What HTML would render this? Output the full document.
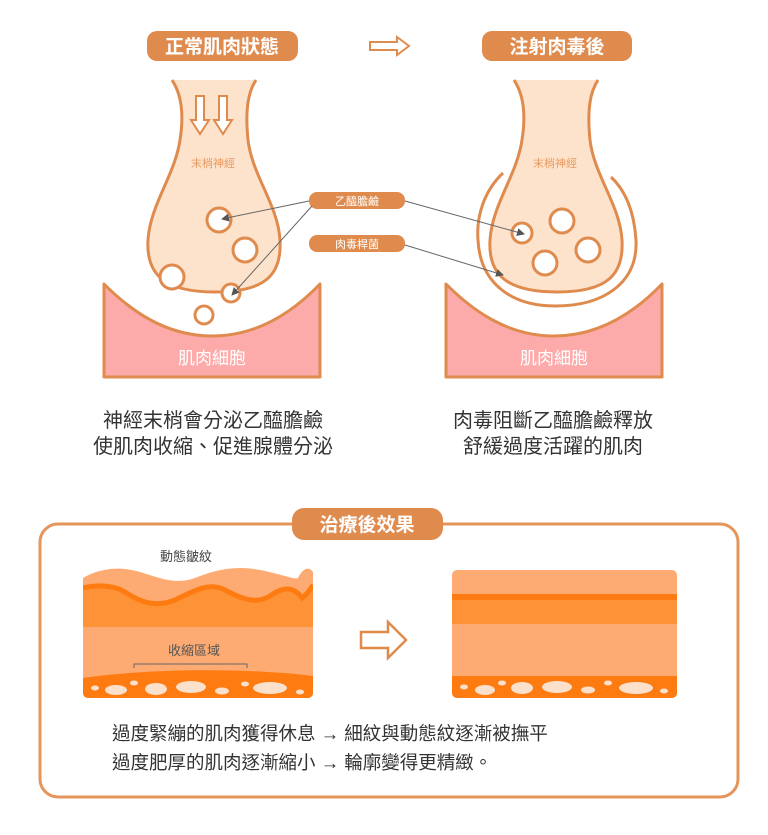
<!DOCTYPE html>
<html><head><meta charset="utf-8"><style>
html,body{margin:0;padding:0;background:#fff;}
svg{display:block}
text{font-family:"Liberation Sans","Noto Sans CJK TC",sans-serif;}
</style></head><body>
<svg width="768" height="835" viewBox="0 0 768 835" xmlns="http://www.w3.org/2000/svg">
<defs>
<marker id="ah" markerWidth="8" markerHeight="8" refX="7" refY="4" orient="auto" markerUnits="userSpaceOnUse"><path d="M0,0 L8,4 L0,8 z" fill="#555"/></marker>
<g id="nerve">
<path d="M172,80 C182,95 184,115 180,140 C175,175 150,205 148,240 C146,275 165,292 215,292 C265,292 282,275 280,240 C278,205 252,175 248,140 C245,110 248,92 256,80" fill="#fde3cc" stroke="#e08b4e" stroke-width="3"/>
</g>
<g id="muscle">
<path d="M104,284 C130,310 165,336 212,336 C259,336 295,310 320,284 L320,377 L104,377 Z" fill="#fdaaaa" stroke="#e08b4e" stroke-width="3" stroke-linejoin="round"/>
</g>
</defs>

<rect x="147" y="31" width="151" height="30" rx="10" fill="#e08b4e"/>
<text x="222" y="53" font-size="19" fill="#fff" text-anchor="middle" font-weight="bold">正常肌肉狀態</text>
<rect x="482" y="31" width="150" height="30" rx="10" fill="#e08b4e"/>
<text x="557" y="53" font-size="19" fill="#fff" text-anchor="middle" font-weight="bold">注射肉毒後</text>
<path d="M370,42 L397,42 L397,37 L409,46 L397,55 L397,50 L370,50 Z" fill="#fff" stroke="#e08b4e" stroke-width="2"/>

<use href="#muscle"/>
<use href="#nerve"/>
<path d="M196,96 L204,96 L204,120 L209,120 L200,134 L191,120 L196,120 Z" fill="#fff" stroke="#e08b4e" stroke-width="2"/>
<path d="M219,96 L227,96 L227,120 L232,120 L223,134 L214,120 L219,120 Z" fill="#fff" stroke="#e08b4e" stroke-width="2"/>
<text x="213" y="167" font-size="11" fill="#e89a60" text-anchor="middle">末梢神經</text>
<g fill="#fff" stroke="#e08b4e" stroke-width="3">
<circle cx="219" cy="220" r="12"/><circle cx="245" cy="250" r="12"/>
<circle cx="172" cy="277" r="12"/><circle cx="231" cy="293" r="9"/><circle cx="204" cy="315" r="9"/>
</g>
<text x="212" y="364" font-size="17" fill="#fff" text-anchor="middle">肌肉細胞</text>

<g transform="translate(342,0)"><use href="#muscle"/></g>
<path d="M503,173 C485,190 476,215 478,240 C480,282 510,306 555,306 C605,306 638,282 636,240 C634,210 625,190 611,177" fill="#fff" stroke="#e08b4e" stroke-width="3"/>
<g transform="translate(342,0)"><use href="#nerve"/></g>
<text x="555" y="167" font-size="11" fill="#e89a60" text-anchor="middle">末梢神經</text>
<g fill="#fff" stroke="#e08b4e" stroke-width="3">
<circle cx="522" cy="233" r="10"/><circle cx="562" cy="221" r="12"/>
<circle cx="588" cy="250" r="12"/><circle cx="545" cy="263" r="12"/>
</g>
<text x="554" y="364" font-size="17" fill="#fff" text-anchor="middle">肌肉細胞</text>

<rect x="309" y="192" width="96" height="17" rx="8" fill="#e08b4e"/>
<text x="357" y="205" font-size="11" fill="#fff" text-anchor="middle">乙醯膽鹼</text>
<rect x="309" y="235" width="96" height="17" rx="8" fill="#e08b4e"/>
<text x="357" y="248" font-size="11" fill="#fff" text-anchor="middle">肉毒桿菌</text>
<g stroke="#666" stroke-width="1" marker-end="url(#ah)">
<line x1="309" y1="201" x2="222" y2="219"/>
<line x1="312" y1="206" x2="232" y2="295"/>
<line x1="405" y1="201" x2="524" y2="234"/>
<line x1="405" y1="245" x2="503" y2="275"/>
</g>

<g font-size="20" fill="#333" text-anchor="middle">
<text x="213" y="427">神經末梢會分泌乙醯膽鹼</text>
<text x="213" y="453">使肌肉收縮、促進腺體分泌</text>
<text x="553" y="427">肉毒阻斷乙醯膽鹼釋放</text>
<text x="553" y="453">舒緩過度活躍的肌肉</text>
</g>

<rect x="40" y="524" width="698" height="273" rx="18" fill="#fff" stroke="#e6955a" stroke-width="3"/>
<rect x="292" y="508" width="151" height="32" rx="12" fill="#e08b4e"/>
<text x="367" y="531" font-size="19" fill="#fff" text-anchor="middle" font-weight="bold">治療後效果</text>
<text x="186" y="561" font-size="13" fill="#444" text-anchor="middle">動態皺紋</text>

<clipPath id="cl"><rect x="83" y="560" width="230" height="138" rx="5"/></clipPath>
<g clip-path="url(#cl)">
<path d="M83,578 C100,568 120,566 140,572 C160,578 175,585 195,578 C215,570 235,565 260,570 C285,575 295,580 298,578 C302,570 308,565 313,572 L313,700 L83,700 Z" fill="#fdab73"/>
<path d="M83,588 C100,584 115,586 125,592 C140,602 155,608 175,600 C195,590 210,582 225,590 C240,598 255,605 270,596 C285,585 295,588 302,598 C306,595 310,590 313,585 L313,627 L83,627 Z" fill="#fd9336"/>
<path d="M83,588 C100,584 115,586 125,592 C140,602 155,608 175,600 C195,590 210,582 225,590 C240,598 255,605 270,596 C285,585 295,588 302,598 C306,595 310,590 313,585" fill="none" stroke="#fe7b12" stroke-width="5"/>
<rect x="83" y="627" width="230" height="50" fill="#fdab73"/>
<path d="M83,678 C150,668 250,668 313,676 L313,700 L83,700 Z" fill="#fe7b12"/>
<g fill="#fbe0cc">
<ellipse cx="95" cy="688" rx="4" ry="2.5"/><ellipse cx="116" cy="690" rx="11" ry="5"/>
<ellipse cx="134" cy="683" rx="4" ry="2.5"/><ellipse cx="156" cy="689" rx="11" ry="6"/>
<ellipse cx="191" cy="687" rx="15" ry="6"/><ellipse cx="222" cy="691" rx="7" ry="3.5"/>
<ellipse cx="245" cy="684" rx="4" ry="2.5"/><ellipse cx="270" cy="688" rx="17" ry="6"/>
<ellipse cx="300" cy="692" rx="4" ry="2.5"/>
</g>
</g>
<text x="194" y="655" font-size="13" fill="#555" text-anchor="middle">收縮區域</text>
<path d="M134,668 L134,664 L247,664 L247,668" fill="none" stroke="#666" stroke-width="1"/>

<path d="M361,632 L388,632 L388,622 L406,640 L388,658 L388,648 L361,648 Z" fill="#fff" stroke="#e08b4e" stroke-width="2.5"/>

<clipPath id="cr"><rect x="452" y="570" width="225" height="128" rx="5"/></clipPath>
<g clip-path="url(#cr)">
<rect x="452" y="570" width="225" height="128" fill="#fdab73"/>
<rect x="452" y="594" width="225" height="6" fill="#fe7b12"/>
<rect x="452" y="600" width="225" height="24" fill="#fd9336"/>
<rect x="452" y="676" width="225" height="22" fill="#fe7b12"/>
<g fill="#fbe0cc">
<ellipse cx="464" cy="687" rx="4" ry="2.5"/><ellipse cx="485" cy="690" rx="10" ry="5"/>
<ellipse cx="502" cy="683" rx="4" ry="2.5"/><ellipse cx="522" cy="688" rx="11" ry="6"/>
<ellipse cx="557" cy="687" rx="15" ry="6"/><ellipse cx="588" cy="690" rx="7" ry="3.5"/>
<ellipse cx="608" cy="683" rx="4" ry="2.5"/><ellipse cx="636" cy="688" rx="17" ry="6"/>
<ellipse cx="664" cy="691" rx="4" ry="2.5"/>
</g>
</g>

<g font-size="18.5" fill="#333">
<text x="112" y="740">過度緊繃的肌肉獲得休息 → 細紋與動態紋逐漸被撫平</text>
<text x="112" y="769">過度肥厚的肌肉逐漸縮小 → 輪廓變得更精緻。</text>
</g>
</svg>
</body></html>
